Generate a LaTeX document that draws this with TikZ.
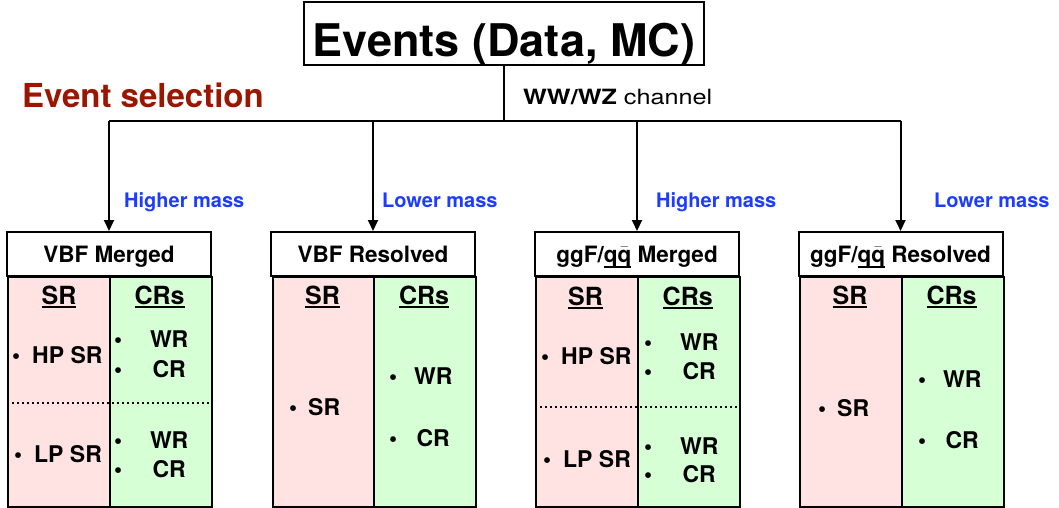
\documentclass[tikz,border=0pt]{standalone}
\usepackage{fontspec}
\setmainfont{TeX Gyre Heros}
\usetikzlibrary{arrows.meta}

\definecolor{srpink}{RGB}{255,226,226}
\definecolor{crgreen}{RGB}{214,255,214}
\definecolor{selred}{RGB}{155,22,0}
\definecolor{massblue}{RGB}{28,60,255}

% bullet and thick underline
\newcommand{\bul}{\makebox[8pt]{\textbullet}}
\newcommand{\ulbox}[2][-3.5pt]{\setbox0\hbox{#2}\rlap{\rule[#1]{\wd0}{1.8pt}}\box0}
\newcommand{\qqbar}{\ulbox[-6pt]{q\ensuremath{\bar{\mbox{q}}}}}

\begin{document}
\begin{tikzpicture}[x=1pt,y=-1pt]
    \tikzstyle{every node}=[inner sep=0pt];
    \tikzstyle{title} = [draw, line width=2pt, minimum width=400pt, minimum height=63pt, text height=47pt, text depth=0pt, font=\bfseries\fontsize{45}{50}\selectfont]
    \tikzstyle{header} = [draw, line width=2pt, fill=white, minimum width=204pt, minimum height=44pt, text height=20pt, text depth=4pt, font=\bfseries\fontsize{22.5}{26}\selectfont]
    \tikzstyle{srcol} = [draw, line width=2pt, fill=srpink, anchor=north west, minimum width=102pt, minimum height=230pt]
    \tikzstyle{crcol} = [draw, line width=2pt, fill=crgreen, anchor=north west, minimum width=102pt, minimum height=230pt]
    \tikzstyle{colhead} = [font=\bfseries\fontsize{25}{28}\selectfont]
    \tikzstyle{item} = [anchor=west, font=\bfseries\fontsize{23}{26}\selectfont]
    \tikzstyle{mass} = [anchor=base west, text=massblue, font=\bfseries\fontsize{20}{24}\selectfont]
    \tikzstyle{line} = [line width=2pt]
    \tikzstyle{flow} = [-{Triangle[length=11pt,width=10pt]}, line width=2pt]
    \tikzstyle{split} = [line width=2pt, dash pattern=on 2pt off 3pt]

    \useasboundingbox (0,0) rectangle (1059,508);

    \node[title] (Events) at (504,33.5) {Events (Data, MC)};
    \node[anchor=base west, text=selred, font=\bfseries\fontsize{33}{38}\selectfont] (Selection) at (22,108) {Event selection};
    \node[anchor=base west, font=\fontsize{21}{24}\selectfont] (Channel) at (523,104.5) {\scalebox{1.2}[1]{\textbf{WW/WZ} channel}};

    % branching
    \coordinate (Split) at (504,121);
    \coordinate (B1) at (109,121);
    \coordinate (B2) at (373,121);
    \coordinate (B3) at (637,121);
    \coordinate (B4) at (900.5,121);
    \draw[line] (Events.south) -- (Split);
    \draw[line] (B1) -- (B4);

    % regions
    \node[srcol] (VBFMsr) at (7,276) {};
    \node[crcol] (VBFMcr) at (109,276) {};
    \node[srcol] (VBFRsr) at (272,276) {};
    \node[crcol] (VBFRcr) at (373,276) {};
    \node[srcol] (GGFMsr) at (535,276) {};
    \node[crcol] (GGFMcr) at (637,276) {};
    \node[srcol] (GGFRsr) at (799,276) {};
    \node[crcol] (GGFRcr) at (900.5,276) {};

    \node[header] (VBFM) at (109,254) {VBF Merged};
    \node[header] (VBFR) at (373,254) {VBF Resolved};
    \node[header] (GGFM) at (637,254) {ggF/\qqbar{} Merged};
    \node[header] (GGFR) at (900.5,254) {ggF/\qqbar{} Resolved};

    \draw[flow] (B1) -- (VBFM.north);
    \draw[flow] (B2) -- (VBFR.north);
    \draw[flow] (B3) -- (GGFM.north);
    \draw[flow] (B4) -- (GGFR.north);

    \node[mass] (HighA) at (124,207) {Higher mass};
    \node[mass] (LowA) at (382,207) {Lower mass};
    \node[mass] (HighB) at (656,207) {Higher mass};
    \node[mass] (LowB) at (934,207) {Lower mass};

    % VBF Merged
    \node[colhead] (VBFMsrh) at (59,297) {\ulbox{SR}};
    \node[colhead] (VBFMcrh) at (159.5,297) {\ulbox{CRs}};
    \draw[split] (7,403) -- (211,403);
    \node[item] (VBFMhp) at (12,355) {\bul\hspace{12pt}HP SR};
    \node[item] (VBFMlp) at (14,454.5) {\bul\hspace{12pt}LP SR};
    \node[item] (VBFMwr1) at (114,339.5) {\bul\hspace{27pt}\makebox[40pt]{WR}};
    \node[item] (VBFMcr1) at (114,369) {\bul\hspace{27pt}\makebox[40pt]{CR}};
    \node[item] (VBFMwr2) at (114,440.5) {\bul\hspace{27pt}\makebox[40pt]{WR}};
    \node[item] (VBFMcr2) at (114,469.5) {\bul\hspace{27pt}\makebox[40pt]{CR}};

    % VBF Resolved
    \node[colhead] (VBFRsrh) at (322.5,297) {\ulbox{SR}};
    \node[colhead] (VBFRcrh) at (424,297) {\ulbox{CRs}};
    \node[item] (VBFRsrt) at (289,407) {\bul\hspace{11pt}SR};
    \node[item] (VBFRwr) at (389,376) {\bul\hspace{15pt}\makebox[42pt]{WR}};
    \node[item] (VBFRcrt) at (389,438) {\bul\hspace{15pt}\makebox[42pt]{CR}};

    % ggF Merged
    \node[colhead] (GGFMsrh) at (585.5,297.5) {\ulbox{SR}};
    \node[colhead] (GGFMcrh) at (687.7,297.5) {\ulbox{CRs}};
    \draw[split] (535,407) -- (739,407);
    \node[item] (GGFMhp) at (541,356) {\bul\hspace{12pt}HP SR};
    \node[item] (GGFMlp) at (543,459) {\bul\hspace{12pt}LP SR};
    \node[item] (GGFMwr1) at (644,342.5) {\bul\hspace{27pt}\makebox[40pt]{WR}};
    \node[item] (GGFMcr1) at (644,371) {\bul\hspace{27pt}\makebox[40pt]{CR}};
    \node[item] (GGFMwr2) at (644,445.8) {\bul\hspace{27pt}\makebox[40pt]{WR}};
    \node[item] (GGFMcr2) at (644,474) {\bul\hspace{27pt}\makebox[40pt]{CR}};

    % ggF Resolved
    \node[colhead] (GGFRsrh) at (850,297) {\ulbox{SR}};
    \node[colhead] (GGFRcrh) at (951.5,297) {\ulbox{CRs}};
    \node[item] (GGFRsrt) at (818,408) {\bul\hspace{11pt}SR};
    \node[item] (GGFRwr) at (918,379) {\bul\hspace{15pt}\makebox[42pt]{WR}};
    \node[item] (GGFRcrt) at (918,440) {\bul\hspace{15pt}\makebox[42pt]{CR}};

\end{tikzpicture}
\end{document}
